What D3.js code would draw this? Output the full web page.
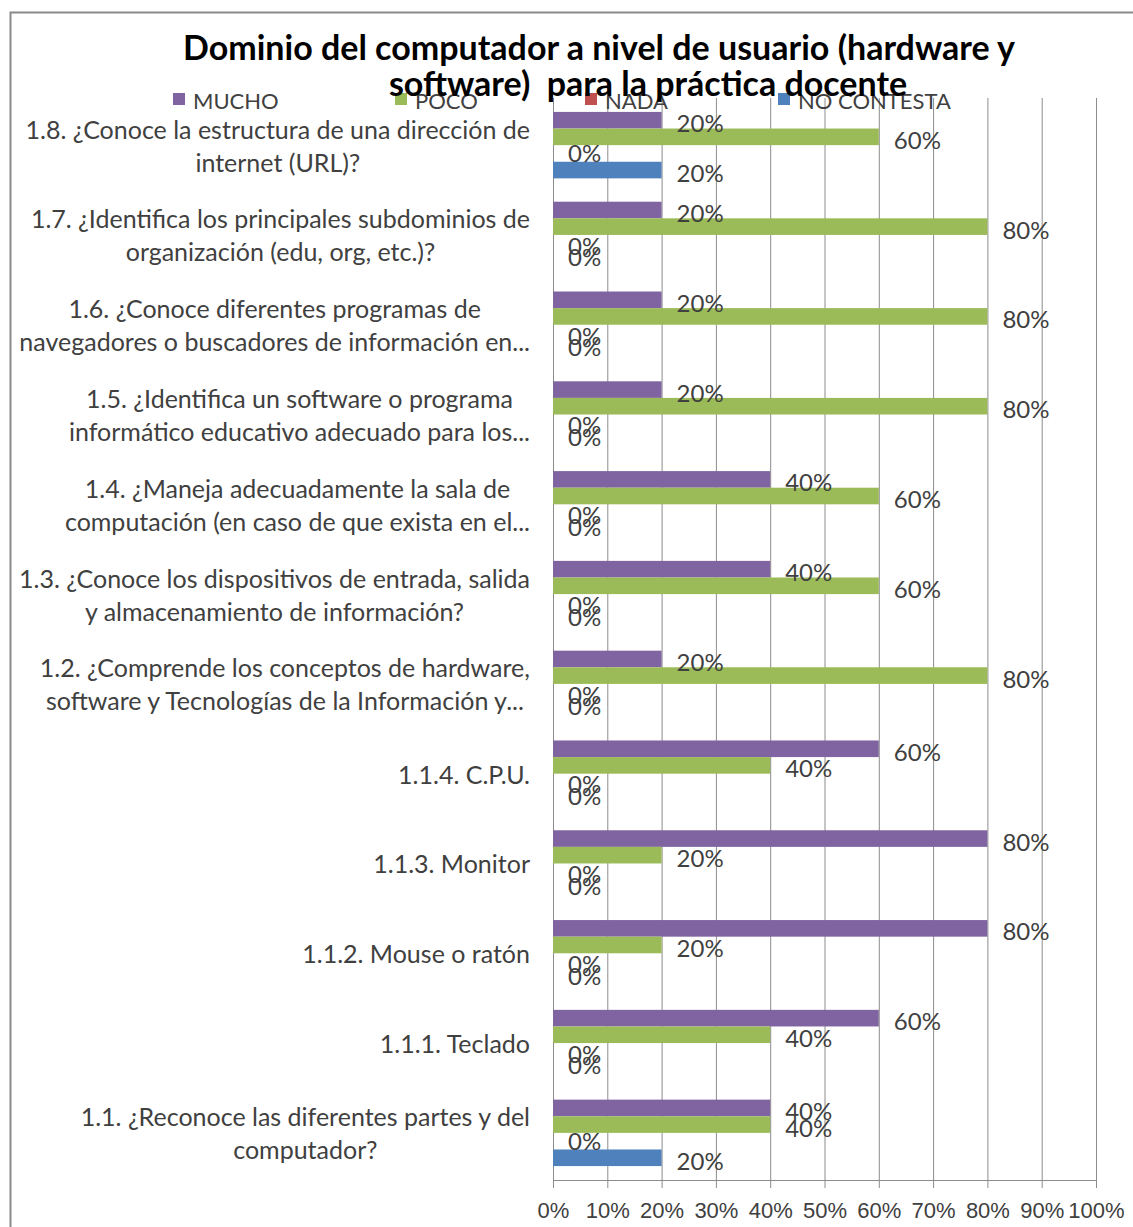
<!DOCTYPE html>
<html>
<head>
<meta charset="utf-8">
<script src="https://cdn.jsdelivr.net/npm/d3@7"></script>
<style>
  body { margin: 0; background: #fff; }
  svg { display: block; font-family: Lato, "Open Sans", sans-serif; }
</style>
</head>
<body>
<div id="chart"></div>
<script>
// categories, top to bottom as drawn ("|" marks a line break)
const categories = [
  "1.8. ¿Conoce la estructura de una dirección de|internet (URL)?",
  "1.7. ¿Identifica los principales subdominios de|organización (edu, org, etc.)?",
  "1.6. ¿Conoce diferentes programas de|navegadores o buscadores de información en...",
  "1.5. ¿Identifica un software o programa|informático educativo adecuado para los...",
  "1.4. ¿Maneja adecuadamente la sala de|computación (en caso de que exista en el...",
  "1.3. ¿Conoce los dispositivos de entrada, salida|y almacenamiento de información?",
  "1.2. ¿Comprende los conceptos de hardware,|software y Tecnologías de la Información y...",
  "1.1.4. C.P.U.",
  "1.1.3. Monitor",
  "1.1.2. Mouse o ratón",
  "1.1.1. Teclado",
  "1.1. ¿Reconoce las diferentes partes y del|computador?"
];

const seriesNames = ["MUCHO", "POCO", "NADA", "NO CONTESTA"];
const seriesColors = ["#8064A2", "#9BBB59", "#C0504D", "#4F81BD"];

const mucho      = [20, 20, 20, 20, 40, 40, 20, 60, 80, 80, 60, 40];
const poco       = [60, 80, 80, 80, 60, 60, 80, 40, 20, 20, 40, 40];
const nada       = [0, 0, 0, 0, 0, 0, 0, 0, 0, 0, 0, 0];
const noContesta = [20, 0, 0, 0, 0, 0, 0, 0, 0, 0, 0, 20];

const xTicks = [0, 10, 20, 30, 40, 50, 60, 70, 80, 90, 100];

const titleLines = [
  "Dominio del computador a nivel de usuario (hardware y",
  "software)  para la práctica docente"
];

const seriesValues = [mucho, poco, nada, noContesta];

const W = 1133, H = 1227;
const plot = { left: 553, right: 1096, top: 98, bottom: 1180 };

const svg = d3.select("#chart").append("svg")
  .attr("width", W)
  .attr("height", H);

// chart border (right/bottom edges fall outside the picture)
svg.append("rect")
  .attr("x", 10.5).attr("y", 12.5)
  .attr("width", 1200).attr("height", 1300)
  .attr("fill", "#fff")
  .attr("stroke", "#8a8a8a")
  .attr("stroke-width", 2);

const x = d3.scaleLinear()
  .domain([0, 100])
  .range([plot.left, plot.right]);

const y = d3.scaleBand()
  .domain(categories)
  .range([plot.top, plot.bottom])
  .paddingInner(0.26)
  .paddingOuter(0.155);

const ySub = d3.scaleBand()
  .domain(seriesNames)
  .range([0, y.bandwidth()]);

// vertical gridlines
svg.append("g")
  .selectAll("line")
  .data(xTicks)
  .enter()
  .append("line")
  .attr("x1", d => x(d) + 0.5)
  .attr("x2", d => x(d) + 0.5)
  .attr("y1", plot.top)
  .attr("y2", plot.bottom)
  .attr("stroke", "#8c8c8c")
  .attr("stroke-width", 1);

// bottom axis
const xAxis = svg.append("g")
  .attr("transform", `translate(0,${plot.bottom})`)
  .call(d3.axisBottom(x).tickValues(xTicks).tickFormat(d => d + "%").tickSize(8).tickPadding(14));
xAxis.select(".domain").attr("stroke", "#8c8c8c");
xAxis.selectAll(".tick line").attr("stroke", "#8c8c8c");
xAxis.selectAll(".tick text")
  .attr("fill", "#404040")
  .style("font-size", "22px");

// bars
const rows = [];
categories.forEach((c, i) => {
  seriesNames.forEach((s, j) => {
    rows.push({ cat: c, series: s, idx: j, value: seriesValues[j][i], pairZero: nada[i] === 0 && noContesta[i] === 0 });
  });
});

svg.append("g")
  .selectAll("rect")
  .data(rows)
  .enter()
  .append("rect")
  .attr("x", x(0))
  .attr("y", d => y(d.cat) + ySub(d.series))
  .attr("width", d => x(d.value) - x(0))
  .attr("height", ySub.bandwidth())
  .attr("fill", d => seriesColors[d.idx]);

// data labels (Excel puts them just past the bar end)
const labelShift = d => {
  if (d.value !== 0) return 2.5;
  if (d.series === "NADA") return d.pairZero ? 2 : -1;
  return d.pairZero ? -3 : 2.5;
};

svg.append("g")
  .selectAll("text")
  .data(rows)
  .enter()
  .append("text")
  .attr("x", d => x(d.value) + 15)
  .attr("y", d => y(d.cat) + ySub(d.series) + ySub.bandwidth() / 2 + labelShift(d))
  .attr("dominant-baseline", "central")
  .attr("fill", "#404040")
  .style("font-size", "24px")
  .text(d => d.value + "%");

// category labels: lines centred within a block that is right aligned
const catGroup = svg.append("g");
categories.forEach(c => {
  const lines = c.split("|");
  const g = catGroup.append("g");
  const cy = y(c) + y.bandwidth() / 2;
  const lineH = 33;
  const texts = lines.map((ln, k) => g.append("text")
    .attr("y", cy + (k - (lines.length - 1) / 2) * lineH)
    .attr("dominant-baseline", "central")
    .attr("text-anchor", "middle")
    .attr("fill", "#404040")
    .style("font-size", "25px")
    .text(ln));
  const maxW = d3.max(texts, t => t.node().getComputedTextLength());
  texts.forEach(t => t.attr("x", 530 - maxW / 2));
});

// legend
const legendX = [173, 395, 585, 778];
const legend = svg.append("g");
seriesNames.forEach((s, i) => {
  legend.append("rect")
    .attr("x", legendX[i]).attr("y", 93)
    .attr("width", 12).attr("height", 12)
    .attr("fill", seriesColors[i]);
  legend.append("text")
    .attr("x", legendX[i] + 20)
    .attr("y", 100)
    .attr("dominant-baseline", "central")
    .attr("fill", "#404040")
    .style("font-size", "22px")
    .text(s);
});

// title (drawn last, sits over the legend as in the original)
svg.append("text")
  .attr("x", 599).attr("y", 60)
  .attr("text-anchor", "middle")
  .style("font-size", "34px")
  .style("font-weight", "bold")
  .attr("fill", "#000")
  .text(titleLines[0]);
svg.append("text")
  .attr("x", 648).attr("y", 96)
  .attr("text-anchor", "middle")
  .style("font-size", "34px")
  .style("font-weight", "bold")
  .style("white-space", "pre")
  .attr("fill", "#000")
  .text(titleLines[1]);
</script>
</body>
</html>
